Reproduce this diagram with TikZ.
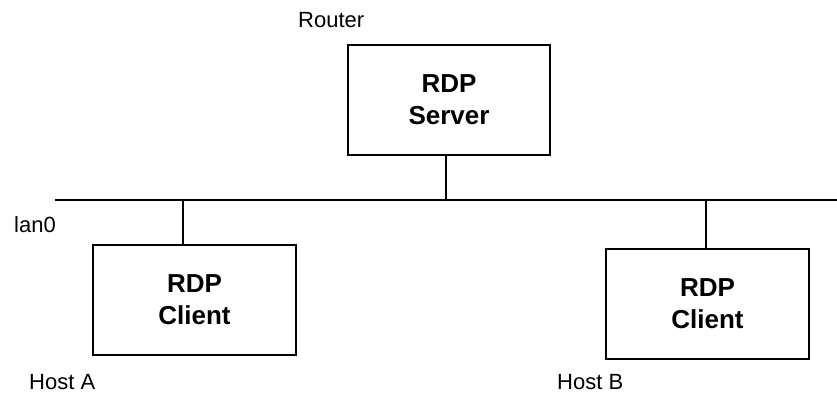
\documentclass[tikz,border=0pt]{standalone}
\usepackage{fontspec}
\setmainfont{Liberation Sans}
\begin{document}
\begin{tikzpicture}[x=1pt,y=-1pt,
  wire/.style={draw=black,line width=1.3pt},
  hostbox/.style={draw=black,line width=1.3pt,rectangle,minimum width=203pt,minimum height=110pt,
    inner sep=0pt,align=center,font=\fontsize{26}{32}\selectfont\bfseries},
  tag/.style={anchor=base west,inner sep=0pt,font=\fontsize{22}{26}\selectfont}]
  \useasboundingbox (0,0) rectangle (837,393);

  % hosts
  \node[hostbox,minimum width=202pt] (server) at (449,100) {RDP\\Server};
  \node[hostbox] (clientA) at (194.5,300) {RDP\\Client};
  \node[hostbox] (clientB) at (707.5,304) {RDP\\Client};

  % shared segment
  \coordinate (busL) at (55,200);
  \coordinate (busR) at (837,200);
  \draw[wire] (busL) -- (busR);

  % attachment points on the segment
  \coordinate (tapS) at (446,200);
  \coordinate (tapA) at (183,200);
  \coordinate (tapB) at (706,200);
  \draw[wire] (tapS) -- (tapS |- server.south);
  \draw[wire] (tapA) -- (tapA |- clientA.north);
  \draw[wire] (tapB) -- (tapB |- clientB.north);

  % labels
  \node[tag] (lRouter) at (298,28) {Router};
  \node[tag] (lLan) at (14,232) {lan0};
  \node[tag] (lHostA) at (29,389) {Host A};
  \node[tag] (lHostB) at (557,389) {Host B};
\end{tikzpicture}
\end{document}
